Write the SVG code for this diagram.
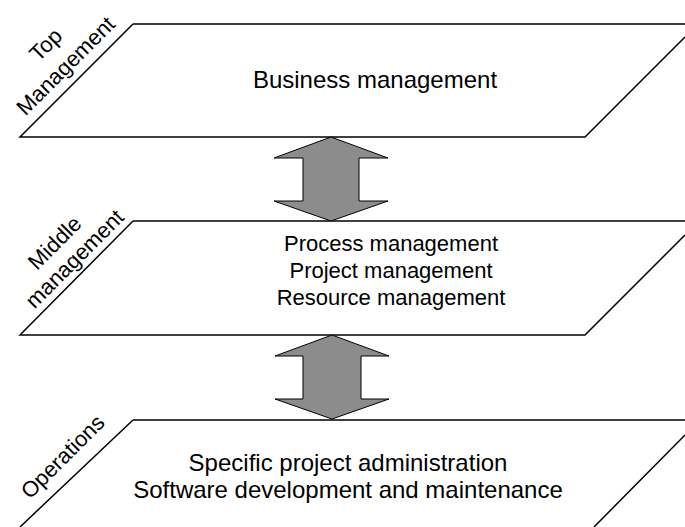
<svg xmlns="http://www.w3.org/2000/svg" width="685" height="527" viewBox="0 0 685 527">
<style>
.layer{fill:#ffffff;stroke:#000000;stroke-width:1.5}
.arrow{fill:#8c8c8c;stroke:#000000;stroke-width:1}
.t{font-family:"Liberation Sans",Arial,sans-serif;fill:#000000;text-anchor:middle}
.big{font-size:24px}
.mid{font-size:22px}
.lab{font-size:22px}
</style>
<rect width="685" height="527" fill="#ffffff"/>
<g id="top-layer">
<path class="layer" d="M133,24 L700,24 M685,37 L585,137 L20,137 L133,24"/>
<text class="t big" x="375" y="88">Business management</text>
<g transform="translate(51,50) rotate(-45)"><text class="t lab" x="0" y="0">Top</text></g>
<g transform="translate(71,71) rotate(-45)"><text class="t lab" x="0" y="0">Management</text></g>
</g>
<g id="middle-layer">
<path class="layer" d="M133,221 L700,221 M685,235 L585,335 L20,335 L133,221"/>
<text class="t mid" x="391" y="251">Process management</text>
<text class="t mid" x="391" y="278">Project management</text>
<text class="t mid" x="391" y="305">Resource management</text>
<g transform="translate(60,248) rotate(-45)"><text class="t lab" x="0" y="0">Middle</text></g>
<g transform="translate(80,264) rotate(-45)"><text class="t lab" x="0" y="0">management</text></g>
</g>
<g id="operations-layer">
<path class="layer" d="M133,420 L700,420 M685,435 L594,527 M20,527 L133,420"/>
<text class="t big" x="348" y="471">Specific project administration</text>
<text class="t big" x="348" y="498">Software development and maintenance</text>
<g transform="translate(68,462) rotate(-45)"><text class="t lab" x="0" y="0">Operations</text></g>
</g>
<g id="connectors">
<path class="arrow" d="M331,137 L388,158 L359,158 L359,201 L388,201 L331,221 L274,201 L303,201 L303,158 L274,158 Z"/>
<path class="arrow" d="M332,335 L389,356 L361,356 L361,399 L389,399 L332,419 L275,399 L303,399 L303,356 L275,356 Z"/>
</g>
</svg>
